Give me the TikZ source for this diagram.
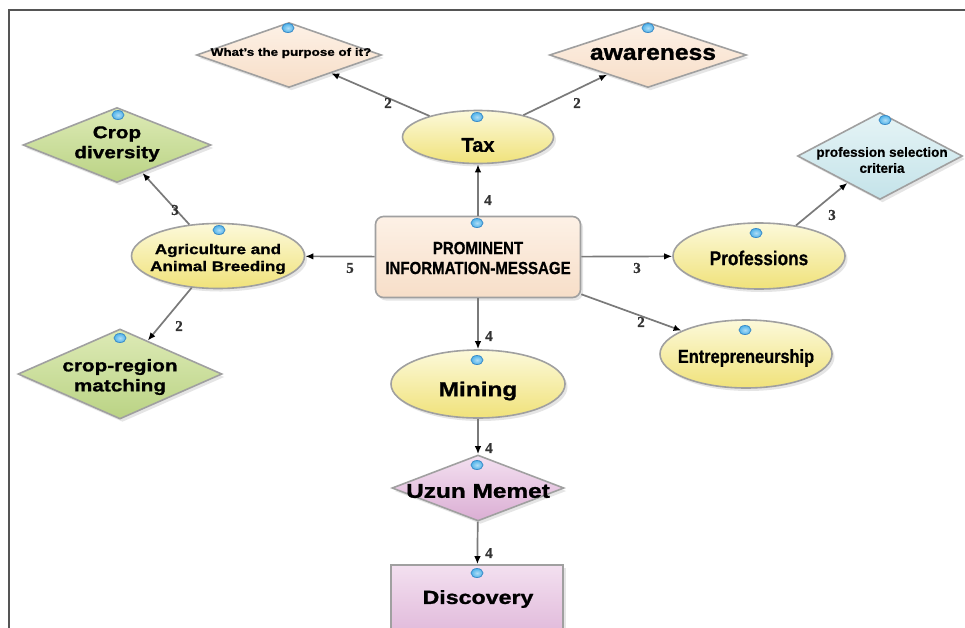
\documentclass[tikz,border=0pt]{standalone}
\usepackage{fontspec}
\usetikzlibrary{shapes.geometric,arrows.meta,shadows}
\newfontfamily\fW[FakeStretch=1.22, BoldFeatures={FakeBold=1.2}]{Liberation Sans}
\newfontfamily\fM[FakeStretch=1.12, BoldFeatures={FakeBold=1.2}]{Liberation Sans}
\newfontfamily\fR[BoldFeatures={FakeBold=0.6}]{Liberation Sans}
\newfontfamily\fN[FakeStretch=0.86, BoldFeatures={FakeBold=0.6}]{Liberation Sans}
\newfontfamily\fS[BoldFeatures={FakeBold=0.8}]{Liberation Serif}
\definecolor{edgegray}{HTML}{7A7A7A}
\definecolor{bordergray}{HTML}{A0A0A0}
\definecolor{framegray}{HTML}{555555}
\definecolor{peachT}{HTML}{FDF1E6}
\definecolor{peachB}{HTML}{F7DEC8}
\definecolor{yelT}{HTML}{FCF9DA}
\definecolor{yelB}{HTML}{F0E27A}
\definecolor{grnT}{HTML}{DDEAB6}
\definecolor{grnB}{HTML}{BAD384}
\definecolor{cyanT}{HTML}{E6F4F6}
\definecolor{cyanB}{HTML}{C4E3E9}
\definecolor{pinkT}{HTML}{F3E0F0}
\definecolor{pinkB}{HTML}{DBAED4}
\definecolor{dotblue}{HTML}{4FB3EA}
\definecolor{dotrim}{HTML}{3C8CC8}
\tikzset{
  shp/.style={draw=bordergray, line width=1.6pt, inner sep=0pt,
    drop shadow={opacity=0.2, shadow xshift=2.5pt, shadow yshift=-3pt}},
  ell/.style={shp, ellipse, top color=yelT, bottom color=yelB},
  dmd/.style={shp, diamond},
  peachfill/.style={top color=peachT, bottom color=peachB},
  grnfill/.style={top color=grnT, bottom color=grnB},
  cyanfill/.style={top color=cyanT, bottom color=cyanB},
  pinkfill/.style={top color=pinkT, bottom color=pinkB},
  txt/.style={inner sep=0pt, align=center, text=black},
  conn/.style={draw=edgegray, line width=1.7pt,
    -{Latex[length=8pt,width=6.5pt,color=black]}},
  num/.style={font=\fS\bfseries\fontsize{15}{15}\selectfont, text=black!80, inner sep=0pt},
  bluedot/.style={inner color=dotblue!45!white, outer color=dotblue, draw=dotrim, line width=0.8pt}
}
\begin{document}
\begin{tikzpicture}[x=1pt,y=-1pt]
\useasboundingbox (0,0) rectangle (965,627);
\clip (0,0) rectangle (965,627);
\fill[white] (0,0) rectangle (965,627);
\draw[framegray, line width=1.2pt] (9,630) -- (9,10) -- (966,10);

% shapes
\node[dmd, peachfill, minimum width=185pt, minimum height=65pt] (what) at (289,55) {};
\node[dmd, peachfill, minimum width=197pt, minimum height=65pt] (aware) at (648,55) {};
\node[ell, minimum width=151pt, minimum height=53pt] (tax) at (478,137) {};
\node[dmd, grnfill, minimum width=188pt, minimum height=75pt] (cropdiv) at (117,145) {};
\node[ell, minimum width=173pt, minimum height=65pt] (agri) at (218,256) {};
\node[shp, rectangle, rounded corners=8pt, peachfill, minimum width=205pt, minimum height=81pt] (box) at (478,257) {};
\node[dmd, cyanfill, minimum width=165pt, minimum height=87pt] (crit) at (880,156) {};
\node[ell, minimum width=172pt, minimum height=66pt] (prof) at (759,256) {};
\node[dmd, grnfill, minimum width=204pt, minimum height=90pt] (cropreg) at (120,374) {};
\node[ell, minimum width=172pt, minimum height=68pt] (entre) at (746,354) {};
\node[ell, minimum width=174pt, minimum height=68pt] (mining) at (478,384) {};
\node[dmd, pinkfill, minimum width=172pt, minimum height=66pt] (uzun) at (478,488) {};
\node[shp, rectangle, pinkfill, minimum width=172pt, minimum height=90pt] (disc) at (477,610) {};

% texts
\node[txt, font=\fW\bfseries\fontsize{11}{13}\selectfont] (whatT) at (291,53) {What’s the purpose of it?};
\node[txt, font=\fM\bfseries\fontsize{22}{24}\selectfont] (awareT) at (653,54) {awareness};
\node[txt, font=\fR\bfseries\fontsize{20}{22}\selectfont] (taxT) at (478,145) {Tax};
\node[txt, font=\fW\bfseries\fontsize{17}{20}\selectfont] (cropdivT) at (117,144) {Crop\\diversity};
\node[txt, font=\fW\bfseries\fontsize{14}{17}\selectfont] (agriT) at (218,259) {Agriculture and\\Animal Breeding};
\node[txt, font=\fN\bfseries\fontsize{17.5}{20}\selectfont] (boxT) at (478,258) {PROMINENT\\INFORMATION-MESSAGE};
\node[txt, font=\fR\bfseries\fontsize{13.5}{16}\selectfont] (critT) at (882,160) {profession selection\\criteria};
\node[txt, font=\fN\bfseries\fontsize{20}{22}\selectfont] (profT) at (759,258) {Professions};
\node[txt, font=\fW\bfseries\fontsize{17}{20}\selectfont] (cropregT) at (120,377) {crop-region\\matching};
\node[txt, font=\fN\bfseries\fontsize{19}{22}\selectfont] (entreT) at (746,358) {Entrepreneurship};
\node[txt, font=\fW\bfseries\fontsize{20}{22}\selectfont] (miningT) at (478,391) {Mining};
\node[txt, font=\fW\bfseries\fontsize{20}{22}\selectfont] (uzunT) at (478,491) {Uzun Memet};
\node[txt, font=\fW\bfseries\fontsize{19}{22}\selectfont] (discT) at (478,599) {Discovery};

% connectors
\draw[conn] (tax) -- (what);
\draw[conn] (tax) -- (aware);
\draw[conn] (box) -- (tax);
\draw[conn] (box) -- (agri);
\draw[conn] (agri) -- (cropdiv);
\draw[conn] (agri) -- (cropreg);
\draw[conn] (box) -- (prof);
\draw[conn] (prof) -- (crit);
\draw[conn] (box) -- (entre);
\draw[conn] (box) -- (mining);
\draw[conn] (mining) -- (uzun);
\draw[conn] (uzun) -- (disc);

% connector labels
\node[num] (l1) at (388,103) {2};
\node[num] (l2) at (577,103) {2};
\node[num] (l3) at (488,200) {4};
\node[num] (l4) at (175,210) {3};
\node[num] (l5) at (350,268) {5};
\node[num] (l6) at (179,326) {2};
\node[num] (l7) at (637,268) {3};
\node[num] (l8) at (832,215) {3};
\node[num] (l9) at (641,322) {2};
\node[num] (l10) at (489,336) {4};
\node[num] (l11) at (489,448) {4};
\node[num] (l12) at (489,553) {4};

% blue connection dots
\foreach \p in {(288,28),(648,28),(477,117),(118,115),(219,230),(477,223),(885,120),(756,233),(120,338),(745,330),(477,360),(477,465),(477,573)}
  \shade[bluedot] \p ellipse [x radius=6pt, y radius=4.5pt];
\end{tikzpicture}
\end{document}
